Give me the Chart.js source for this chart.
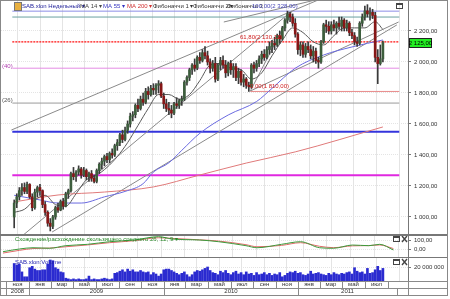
<!DOCTYPE html>
<html>
<head>
<meta charset="utf-8">
<script src="https://cdn.jsdelivr.net/npm/chart.js@4.4.0/dist/chart.umd.min.js"></script>
<style>
body{margin:0;background:#fff;width:450px;height:299px;overflow:hidden;position:relative}
canvas{position:absolute;left:0}
.sep{position:absolute;left:0;width:447px;background:#777}
#frame{position:absolute;left:0;top:0;width:446px;height:294px;border:1px solid #888;pointer-events:none}
</style>
</head>
<body>
<canvas id="main" width="450" height="235" style="top:0px"></canvas>
<canvas id="macd" width="450" height="23" style="top:235px"></canvas>
<canvas id="vol" width="450" height="41" style="top:258px"></canvas>
<div id="frame"></div>
<div class="sep" style="top:234px;height:2px"></div>
<div class="sep" style="top:257px;height:1px"></div>
<script>
// weekly candles, SAB.xlon, week 0 = late Nov 2008
const opens=[1000,1090,1130,1170,1190,1165,1210,1130,1060,1160,1190,1170,1080,1030,960,940,1000,1060,1045,1100,
1070,1150,1170,1280,1260,1290,1310,1270,1300,1260,1280,1250,1230,1300,1340,1360,1390,1370,1410,1400,
1460,1480,1530,1500,1560,1600,1650,1660,1720,1700,1760,1740,1810,1790,1830,1820,1850,1860,1780,1730,
1700,1690,1670,1730,1720,1750,1760,1870,1900,1950,1980,1960,2030,2010,2060,2040,2000,1960,1990,1890,
1980,2010,1980,1930,1990,1950,1970,1900,1940,1870,1890,1850,1840,1980,1960,1990,2020,2050,2030,2080,
2100,2120,2110,2170,2150,2220,2270,2310,2290,2250,2180,2080,2110,2050,2100,2080,2040,2070,2010,2000,
2130,2240,2230,2200,2240,2220,2250,2230,2270,2220,2250,2190,2170,2130,2120,2250,2290,2330,2310,2320,
2300,2030,1990,2020];
const highs=[1110,1150,1190,1215,1220,1225,1215,1150,1180,1200,1210,1175,1100,1040,990,1010,1070,1090,1110,1120,
1160,1180,1290,1320,1300,1330,1320,1320,1310,1290,1300,1270,1310,1350,1380,1400,1410,1420,1440,1470,
1500,1540,1560,1580,1620,1670,1680,1730,1760,1780,1800,1830,1840,1850,1860,1860,1880,1870,1800,1760,
1740,1720,1740,1770,1760,1780,1880,1910,1960,1990,2020,2040,2060,2080,2100,2070,2020,2010,2030,1990,
2030,2040,2010,2000,2010,1990,1990,1960,1950,1920,1900,1870,1990,2000,2010,2040,2070,2080,2100,2130,
2140,2160,2180,2200,2230,2280,2328,2320,2310,2280,2190,2130,2130,2120,2130,2110,2100,2090,2030,2140,
2250,2270,2260,2260,2270,2260,2290,2290,2280,2270,2260,2210,2190,2160,2260,2310,2360,2370,2350,2340,
2320,2080,2110,2135];
const lows=[930,1060,1110,1140,1150,1150,1120,1040,1050,1130,1140,1060,1010,940,910,925,985,1030,1040,1050,
1065,1120,1160,1240,1230,1270,1250,1260,1240,1230,1230,1220,1220,1280,1310,1330,1350,1350,1380,1390,
1430,1460,1480,1490,1540,1580,1620,1640,1680,1690,1720,1730,1760,1780,1790,1790,1800,1770,1700,1680,
1660,1640,1660,1700,1700,1720,1750,1850,1880,1920,1940,1950,1990,2000,2020,1980,1930,1940,1870,1880,
1950,1960,1900,1910,1920,1900,1880,1860,1850,1840,1830,1810,1830,1930,1940,1970,1990,2010,2020,2050,
2060,2080,2100,2120,2140,2200,2250,2260,2230,2160,2050,2040,2030,2030,2060,2020,2000,1990,1960,1990,
2120,2190,2180,2180,2200,2180,2210,2200,2200,2200,2170,2150,2110,2100,2110,2230,2270,2290,2270,2280,
2000,1860,1980,2000];
const closes=[1090,1130,1170,1190,1165,1210,1130,1060,1160,1190,1170,1080,1030,960,940,1000,1060,1045,1100,1070,
1150,1170,1280,1260,1290,1310,1270,1300,1260,1280,1250,1230,1300,1340,1360,1390,1370,1410,1400,1460,
1480,1530,1500,1560,1600,1650,1660,1720,1700,1760,1740,1810,1790,1830,1820,1850,1860,1780,1730,1700,
1690,1670,1730,1720,1750,1760,1870,1900,1950,1980,1960,2030,2010,2060,2040,2000,1960,1990,1890,1980,
2010,1980,1930,1990,1950,1970,1900,1940,1870,1890,1850,1840,1980,1960,1990,2020,2050,2030,2080,2100,
2120,2110,2170,2150,2220,2270,2310,2290,2250,2180,2080,2110,2050,2100,2080,2040,2070,2010,2000,2130,
2240,2230,2200,2240,2220,2250,2230,2270,2220,2250,2190,2170,2130,2120,2250,2290,2330,2310,2320,2300,
2030,1990,2020,2125];
// volume, millions of shares
const volumes=[25,23,24,13,6,6,19,21,17,15,15,16,16,24,30,29,19,17,13,12,
4,3,2,3,2,3,2,2,3,7,2,3,2,2,3,4,3,2,3,11,
12,14,16,13,17,14,16,13,13,15,13,12,13,9,12,10,7,10,16,17,
17,15,13,11,9,11,13,9,6,9,13,15,14,16,18,20,15,12,11,9,
14,12,15,11,9,12,14,10,12,9,13,10,11,8,12,9,10,12,9,11,
8,10,9,12,6,8,11,13,12,14,11,12,9,8,10,14,10,11,12,10,
9,8,11,9,12,10,9,11,10,12,13,10,19,14,12,13,10,18,11,12,
16,21,15,18];
// moving averages: [week, price]
const ma14=[[0,1030],[4,1050],[8,1110],[12,1140],[16,1080],[20,1070],[24,1150],[28,1240],[32,1270],[36,1320],
[40,1390],[44,1480],[48,1590],[52,1700],[56,1790],[60,1790],[64,1760],[68,1790],[72,1880],[76,1980],[80,1990],
[84,1960],[88,1950],[92,1890],[96,1930],[100,2040],[104,2140],[108,2220],[112,2190],[116,2130],[120,2110],
[124,2170],[128,2220],[132,2220],[136,2220],[140,2260],[143,2210]];
const ma55=[[0,1140],[10,1110],[17,1090],[26,1090],[35,1130],[43,1165],[50,1215],[54,1290],[60,1350],[65,1430],
[72,1540],[83,1658],[94,1745],[100,1830],[109,1960],[120,2045],[131,2097],[143,2142]];
const ma200=[[0,1097],[17,1142],[35,1161],[54,1194],[72,1271],[90,1348],[109,1420],[143,1581]];
// MACD 26,12,9
const macdLine=[[0,-30],[6,0],[11,14],[17,8],[23,37],[31,52],[39,81],[48,100],[57,137],[62,111],[72,100],[79,81],
[89,37],[93,14],[102,52],[109,81],[116,14],[121,8],[128,44],[134,37],[138,52],[143,-11]];
const signalLine=[[0,-45],[6,-15],[11,5],[17,10],[23,25],[31,45],[39,70],[48,92],[57,125],[62,118],[72,102],[79,88],
[89,48],[93,25],[102,40],[109,70],[116,30],[121,15],[128,35],[134,38],[138,45],[143,5]];
// trend lines: [week1, price1, week2, price2]
const trendLines=[[-1.1,1561,117.9,2400],[14.7,903,148.4,2239],[2.6,871,107.7,2329],[91.6,1813,107.7,2329],
[81.3,2258,116.8,2400],[91.6,1813,149.1,2258]];
// fibonacci / horizontal levels
const levelValues=[2328,2290,2130.12,1960,1810,1735,1550,1270];
const priceTicks=[1000,1200,1400,1600,1800,2000,2200];
const monthBounds=[-3,5.86,14.3,23,31.7,40.6,49.3,58,66.4,75.1,83.9,92.7,101.4,110.1,118.6,127.3,136,144.9];
const monthNames=['ноя','янв','мар','май','июл','сен','ноя','янв','мар','май','июл','сен','ноя','янв','мар','май','июл'];
const yearBounds=[-3,5.86,58,110.1,148.4];
const yearNames=['2008','2009','2010','2011'];

const XMIN=-0.73, XMAX=148.35;
const FONT='"Liberation Sans", Arial, sans-serif';
Chart.defaults.font.family=FONT;
Chart.defaults.font.size=6;
Chart.defaults.color='#333';

function fmt(v,dec){
  let s=v.toFixed(dec);
  let parts=s.split('.');
  let i=parts[0].replace(/\B(?=(\d{3})+(?!\d))/g,' ');
  return dec?i+','+parts[1]:i;
}
const pts=a=>a.map(p=>({x:p[0],y:p[1]}));
const lineDs=(data,color,order,extra)=>Object.assign({type:'line',data:data,borderColor:color,borderWidth:1,pointRadius:0,
  fill:false,order:order,cubicInterpolationMode:'monotone'},extra||{});

function xAxis(h){
  return {type:'linear',min:XMIN,max:XMAX,
    afterBuildTicks:s=>{s.ticks=monthBounds.map(v=>({value:v}))},
    afterFit:s=>{s.height=h;s.paddingLeft=0;s.paddingRight=0},
    ticks:{display:false},border:{display:false},
    grid:{color:'#e4e4e4',drawTicks:false}};
}
function yAxis(min,max,ticks,cb){
  return {position:'right',min:min,max:max,
    afterBuildTicks:s=>{s.ticks=ticks.map(v=>({value:v}))},
    afterFit:s=>{s.width=42;s.paddingTop=0;s.paddingBottom=0},
    ticks:{callback:cb,padding:3,color:'#333',font:{size:6}},
    border:{color:'#777',dash:[1,1]},
    grid:{color:'#e4e4e4',tickLength:3,tickColor:'#777'}};
}

const weeks=closes.map((_,i)=>i);
const upCol='#3d5e3d', downCol='#861616';

const datasets=[
  {type:'bar',data:weeks.map(i=>({x:i,y:[opens[i],closes[i]]})),barThickness:2,grouped:false,order:1,
   backgroundColor:weeks.map(i=>closes[i]>=opens[i]?upCol:downCol),borderWidth:0},
  {type:'bar',data:weeks.map(i=>({x:i,y:[lows[i],highs[i]]})),barThickness:1,grouped:false,order:2,
   backgroundColor:'#3a3a3a',borderWidth:0},
  lineDs(pts(ma14),'#5a5a5a',3),
  lineDs(pts(ma55),'#6a6ae0',3),
  lineDs(pts(ma200),'#e07a7a',3)
];
trendLines.forEach(t=>datasets.push(lineDs([{x:t[0],y:t[1]},{x:t[2],y:t[3]}],'#8a8a8a',4)));
const levelStyle=[
  {c:'#8c8ce6',w:1,from:XMIN},{c:'#6aa0a0',w:1,from:XMIN},{c:'#ff1010',w:1.3,from:XMIN,dash:[2,1]},
  {c:'#e48ce4',w:1,from:XMIN},{c:'#e88a8a',w:1,from:91.6},{c:'#9a9a9a',w:1,from:XMIN},
  {c:'#3434dc',w:2,from:XMIN},{c:'#e028e0',w:2,from:XMIN}];
levelValues.forEach((v,i)=>{
  const st=levelStyle[i];
  datasets.push(lineDs([{x:st.from,y:v},{x:XMAX+1,y:v}],st.c,5,{borderWidth:st.w,borderDash:st.dash||[]}));
});

function txt(ctx,s,x,y,color,align){
  ctx.fillStyle=color;ctx.textAlign=align||'left';ctx.textBaseline='middle';ctx.fillText(s,x,y);
}
function winIcons(ctx,x,y,close){
  ctx.strokeStyle='#444';ctx.lineWidth=1;
  ctx.strokeRect(x+0.5,y+0.5,6,5);
  ctx.beginPath();ctx.moveTo(x+0.5,y+1.5);ctx.lineTo(x+6.5,y+1.5);ctx.stroke();
  if(close){
    ctx.lineWidth=1.4;ctx.beginPath();
    ctx.moveTo(x+9,y);ctx.lineTo(x+14,y+6);ctx.moveTo(x+14,y);ctx.lineTo(x+9,y+6);ctx.stroke();
  }
}

const mainDeco={id:'mainDeco',afterDraw(c){
  const ctx=c.ctx, ys=c.scales.y;
  ctx.save();
  ctx.font='6px '+FONT;
  // legend strip
  ctx.fillStyle='#e8b040';ctx.fillRect(14,2,7,8);ctx.strokeStyle='#777';ctx.strokeRect(14.5,2.5,7,8);
  txt(ctx,'SAB.xlon Недельный ▾',22,6,'#22229a');
  txt(ctx,'MA 14 ▾',80,6,'#444');
  txt(ctx,'MA 55 ▾',103,6,'#3535c0');
  txt(ctx,'MA 200 ▾',127,6,'#d03030');
  txt(ctx,'Фибоначчи 1 ▾',153,6,'#333');
  txt(ctx,'Фибоначчи 2 ▾',193,6,'#333');
  txt(ctx,'Фибоначчи 3',227,6,'#333');
  txt(ctx,'100,00(2 328,00)',252,6,'#4848b8');
  winIcons(ctx,396,3,false);
  // level captions
  txt(ctx,'61,80(2 130,12)',240,ys.getPixelForValue(2130.12)-4,'#d02020');
  txt(ctx,'0,00(1 810,00)',250,ys.getPixelForValue(1810)-5,'#d02020');
  txt(ctx,'(40)',2,ys.getPixelForValue(1960)-2,'#b040b0');
  txt(ctx,'(26)',2,ys.getPixelForValue(1735)-3,'#555');
  // last price box
  const py=Math.round(ys.getPixelForValue(closes[closes.length-1]));
  ctx.fillStyle='#22ee22';ctx.fillRect(409,py-5,23,10);
  ctx.strokeStyle='#222';ctx.strokeRect(409.5,py-4.5,22,9);
  txt(ctx,fmt(closes[closes.length-1],2),420.5,py,'#000','center');
  ctx.restore();
}};

new Chart(document.getElementById('main'),{
  data:{datasets:datasets},
  options:{responsive:false,animation:false,events:[],
    layout:{padding:{left:1,top:1,bottom:1,right:0}},
    plugins:{legend:{display:false},tooltip:{enabled:false}},
    scales:{x:xAxis(0),y:yAxis(890.3,2393.5,priceTicks,v=>fmt(v,2))}},
  plugins:[mainDeco]
});

const macdDeco={id:'macdDeco',afterDraw(c){
  const ctx=c.ctx;ctx.save();ctx.font='6px '+FONT;
  txt(ctx,'Схождение/расхождение скользящего среднего 26, 12, 9 ▾',15,4,'#2a8a2a');
  winIcons(ctx,393,1,true);
  ctx.restore();
}};
new Chart(document.getElementById('macd'),{
  data:{datasets:[lineDs(pts(macdLine),'#3c9a3c',1),lineDs(pts(signalLine),'#e06a6a',2)]},
  options:{responsive:false,animation:false,events:[],
    layout:{padding:{left:1,top:0,bottom:0,right:0}},
    plugins:{legend:{display:false},tooltip:{enabled:false}},
    scales:{x:xAxis(0),y:yAxis(-100,155.6,[0,100],v=>fmt(v,2))}},
  plugins:[macdDeco]
});

const volDeco={id:'volDeco',afterDraw(c){
  const ctx=c.ctx, xs=c.scales.x, b=c.chartArea.bottom, r=c.chartArea.right;
  ctx.save();ctx.font='6px '+FONT;
  txt(ctx,'SAB.xlon:Volume',15,4,'#2222b0');
  winIcons(ctx,393,1,true);
  // time axis, two rows
  const r1=b, r2=b+7, r3=b+14;
  ctx.strokeStyle='#8a8a8a';ctx.lineWidth=1;
  ctx.beginPath();
  [r1,r2,r3].forEach(y=>{ctx.moveTo(0,y+0.5);ctx.lineTo(447,y+0.5)});
  ctx.moveTo(r+0.5,r1);ctx.lineTo(r+0.5,r3);
  const px=v=>Math.max(1,Math.min(r,Math.round(xs.getPixelForValue(v))));
  monthBounds.forEach(v=>{const x=px(v);if(x>1&&x<r){ctx.moveTo(x+0.5,r1);ctx.lineTo(x+0.5,r2)}});
  yearBounds.forEach(v=>{const x=px(v);if(x>1&&x<r){ctx.moveTo(x+0.5,r2);ctx.lineTo(x+0.5,r3)}});
  ctx.stroke();
  monthNames.forEach((m,i)=>{
    const a=px(monthBounds[i]), z=px(monthBounds[i+1]);
    txt(ctx,m,(a+z)/2,r1+3.8,'#333','center');
  });
  yearNames.forEach((y,i)=>{
    const a=px(yearBounds[i]), z=px(yearBounds[i+1]);
    txt(ctx,y,(a+z)/2,r2+3.8,'#333','center');
  });
  ctx.restore();
}};
new Chart(document.getElementById('vol'),{
  data:{datasets:[{type:'bar',data:weeks.map(i=>({x:i,y:volumes[i]})),barThickness:2,grouped:false,
    backgroundColor:'#2b2bd0',borderWidth:0}]},
  options:{responsive:false,animation:false,events:[],
    layout:{padding:{left:1,top:0,bottom:0,right:0}},
    plugins:{legend:{display:false},tooltip:{enabled:false}},
    scales:{x:xAxis(18),y:yAxis(0,32.86,[20],v=>fmt(v*1e6,0))}},
  plugins:[volDeco]
});
</script>
</body>
</html>
